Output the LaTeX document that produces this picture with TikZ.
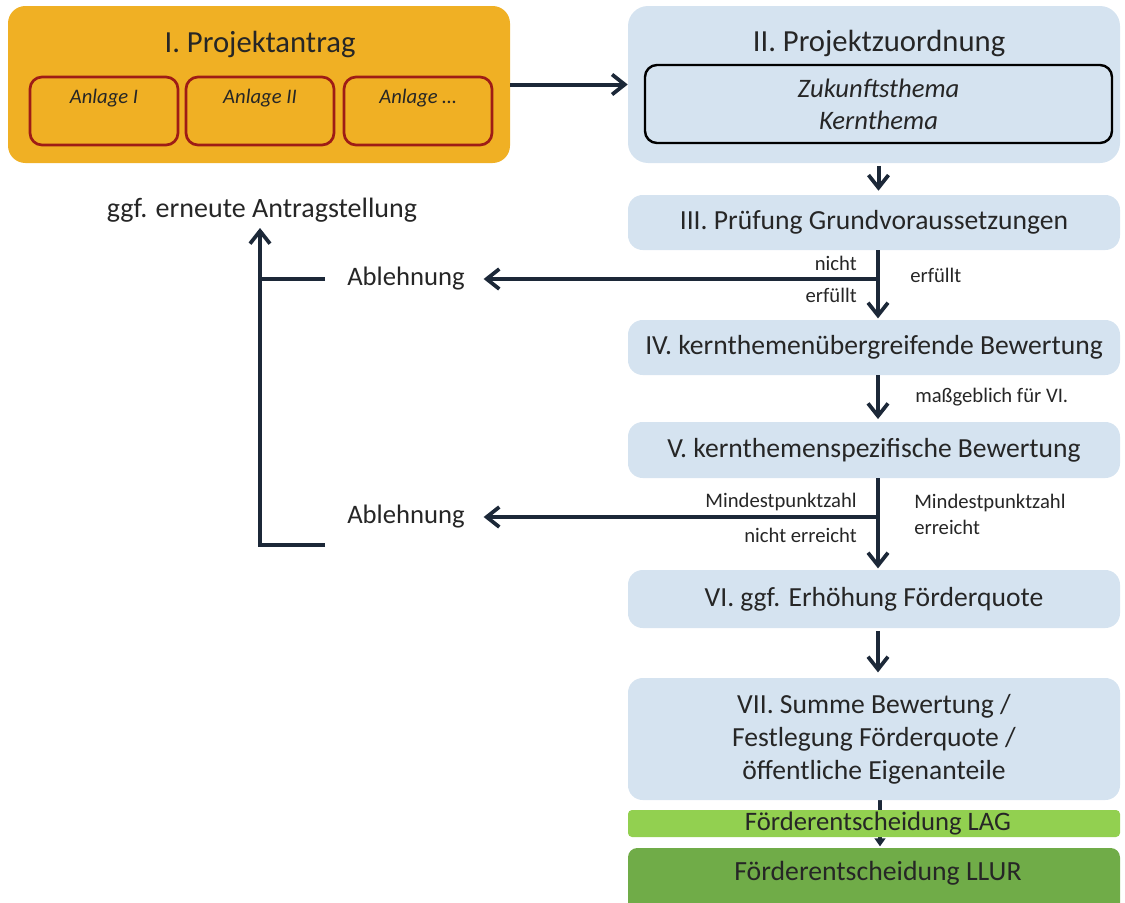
\documentclass[tikz,border=0pt]{standalone}
\usepackage{fontspec}
\setmainfont{Carlito}
\usetikzlibrary{arrows.meta}
\pgfdeclarelayer{bg}
\pgfsetlayers{bg,main}
\definecolor{orangebox}{HTML}{F0B024}
\definecolor{redline}{HTML}{9E1C16}
\definecolor{bluebox}{HTML}{D5E3F0}
\definecolor{navy}{HTML}{1C2838}
\definecolor{lag}{HTML}{92D050}
\definecolor{llur}{HTML}{70AC48}
\definecolor{txt}{HTML}{262626}
\begin{document}
\begin{tikzpicture}[x=0.75pt,y=-0.75pt,
  every node/.style={text=txt, inner sep=0pt},
  stepbox/.style={draw=none, fill=bluebox, rounded corners=11pt, minimum width=492*0.75pt, align=center, font=\fontsize{20.7}{24.75}\selectfont},
  anlage/.style={draw=redline, line width=2pt, rounded corners=9pt, minimum width=148*0.75pt, minimum height=68*0.75pt},
  atext/.style={font=\fontsize{15.5}{18}\selectfont\itshape},
  arr/.style={draw=navy, line width=3pt, -{Straight Barb[length=9.5pt,width=15pt,line width=2.8pt]}},
  thinarr/.style={draw=navy, line width=3pt, -{Triangle[length=6pt,width=8pt]}},
  ln/.style={draw=navy, line width=3pt},
  small/.style={font=\fontsize{15.5}{18}\selectfont},
  abl/.style={font=\fontsize{20}{24}\selectfont}
]
\useasboundingbox (0,0) rectangle (1125,903);
% Box I
\node[fill=orangebox, rounded corners=13pt, minimum width=502*0.75pt, minimum height=157*0.75pt] (I) at (259,84.5) {};
\node[font=\fontsize{23}{27}\selectfont] (Ititle) at (260,44) {I. Projektantrag};
\node[anlage] (a1) at (104,111) {};
\node[atext] (a1t) at (104,98) {Anlage I};
\node[anlage] (a2) at (260,111) {};
\node[atext] (a2t) at (260,98) {Anlage II};
\node[anlage] (a3) at (418,111) {};
\node[atext] (a3t) at (418,98) {Anlage \dots};
% Box II
\node[fill=bluebox, rounded corners=15pt, minimum width=492*0.75pt, minimum height=157*0.75pt] (II) at (874,84.5) {};
\node[font=\fontsize{23}{27}\selectfont] (IItitle) at (879,43) {II. Projektzuordnung};
\node[draw=black, line width=1.8pt, rounded corners=9pt, minimum width=467*0.75pt, minimum height=78*0.75pt, align=center, font=\fontsize{20}{24}\selectfont\itshape] (themen) at (878.5,104) {Zukunftsthema\\Kernthema};
% chain
\node[stepbox, minimum height=55*0.75pt] (III) at (874,222.5) {III. Prüfung Grundvoraussetzungen};
\node[stepbox, minimum height=55*0.75pt] (IV) at (874,347.5) {IV. kernthemenübergreifende Bewertung};
\node[stepbox, minimum height=56*0.75pt] (V) at (874,450) {V. kernthemenspezifische Bewertung};
\node[stepbox, minimum height=58*0.75pt] (VI) at (874,599) {VI. ggf. Erhöhung Förderquote};
\node[stepbox, minimum height=122*0.75pt, font=\fontsize{20.7}{24.75}\selectfont] (VII) at (874,739) {VII. Summe Bewertung /\\Festlegung Förderquote /\\öffentliche Eigenanteile};
\node[fill=lag, rounded corners=3pt, minimum width=492*0.75pt, minimum height=27*0.75pt] (LAG) at (874,823.5) {};
\node[font=\fontsize{20}{24}\selectfont] (LAGt) at (878,824) {Förderentscheidung LAG};
\node[fill=llur, rounded corners=7pt, minimum width=492*0.75pt, minimum height=70*0.75pt] (LLUR) at (874,883) {};
\node[font=\fontsize{20.8}{24}\selectfont] (LLURt) at (878,873) {Förderentscheidung LLUR};
% left texts
\node[font=\fontsize{21}{25}\selectfont] (ggf) at (262,210) {ggf. erneute Antragstellung};
\node[abl, anchor=west] (abl1) at (347,279) {Ablehnung};
\node[abl, anchor=west] (abl2) at (347,517) {Ablehnung};
\coordinate (j1) at (878,279);
\coordinate (j2) at (878,517);
\coordinate (j3) at (880,517);
\coordinate (t1) at (325,279);
\coordinate (t2) at (325,545);
\coordinate (up) at (260,228);
% connectors
\draw[arr] (I.east) -- (II.west);
\draw[arr, shorten <=2pt, shorten >=3pt] (II.south -| themen.south) -- (III.north -| themen.south);
\draw[arr, shorten >=1pt] (III.south -| j1) -- (IV.north -| j1);
\draw[arr, shorten >=14pt] (j1) -- (abl1.east);
\draw[arr, shorten >=2pt] (IV.south -| j1) -- (V.north -| j1);
\draw[arr, shorten >=1pt] (V.south -| j2) -- (VI.north -| j2);
\draw[arr, shorten >=14pt] (j2) -- (abl2.east);
\draw[arr, shorten <=2pt, shorten >=4pt] (VI.south -| j2) -- (VII.north -| j2);
\begin{pgfonlayer}{bg}
\draw[thinarr, shorten >=1pt] (VII.south -| j3) -- (LLUR.north -| j3);
\end{pgfonlayer}
\draw[ln] (t1) -- (t1 -| up);
\draw[arr, line cap=butt] (t2) -| (up);
% labels
\node[small, anchor=east] (l1) at (857,263) {nicht};
\node[small, anchor=east] (l2) at (857,295) {erfüllt};
\node[small, anchor=west] (l3) at (910,275) {erfüllt};
\node[small, anchor=west] (l4) at (915,397) {maßgeblich für VI.};
\node[small, anchor=east] (l5) at (857,502) {Mindestpunktzahl};
\node[small, anchor=east] (l6) at (857,535) {nicht erreicht};
\node[small, anchor=west] (l7) at (914,503) {Mindestpunktzahl};
\node[small, anchor=west] (l8) at (914,527) {erreicht};
\end{tikzpicture}
\end{document}
